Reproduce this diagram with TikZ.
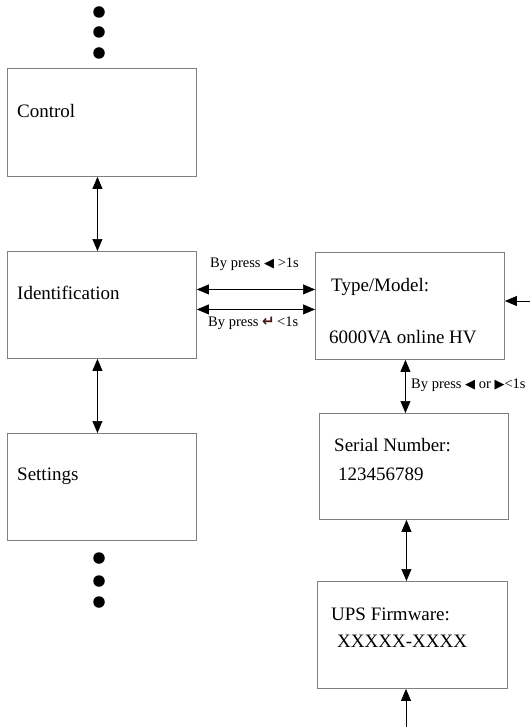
\documentclass[tikz,border=0pt]{standalone}
\usepackage{fontspec}
\setmainfont{Liberation Serif}
\newfontfamily\symfont{DejaVu Sans}
\usetikzlibrary{arrows.meta}
\definecolor{boxgray}{RGB}{128,128,128}
\definecolor{enterred}{RGB}{70,20,15}
\tikzset{
  box/.style={draw=boxgray, line width=0.9pt, anchor=north west, inner sep=0pt},
  lbl/.style={anchor=west, inner sep=0pt, font=\fontsize{19}{22}\selectfont},
  small/.style={anchor=west, inner sep=0pt, font=\fontsize{14.5}{16}\selectfont},
  conn/.style={line width=0.7pt, {Triangle[length=12pt,width=10pt]}-{Triangle[length=12pt,width=10pt]}},
  conn1/.style={line width=0.7pt, -{Triangle[length=12pt,width=10pt]}},
  dot/.style={fill=black, circle, inner sep=0pt, minimum size=11.5pt}
}
\newcommand{\lefttri}{{\symfont\fontsize{13}{15}\selectfont ◀}}
\newcommand{\righttri}{{\symfont\fontsize{13}{15}\selectfont ▶}}
\begin{document}
\begin{tikzpicture}[x=1pt,y=-1pt]
\useasboundingbox (0,0) rectangle (530,727);
% left column
\node[box, minimum width=189pt, minimum height=108pt] (ctrl) at (7,68) {};
\node[box, minimum width=189pt, minimum height=107pt] (ident) at (7,251) {};
\node[box, minimum width=189pt, minimum height=107pt] (sett) at (7,433) {};
\node[lbl] (tctrl) at (17,111) {Control};
\node[lbl] (tident) at (17,293) {Identification};
\node[lbl] (tsett) at (17,476) {Settings};
% dots
\node[dot] (d1) at (99,12) {};
\node[dot] (d2) at (99,32) {};
\node[dot] (d3) at (99,53) {};
\node[dot] (d4) at (99,558) {};
\node[dot] (d5) at (99,581) {};
\node[dot] (d6) at (99,602) {};
% right column
\node[box, minimum width=189pt, minimum height=107pt] (tm) at (315,252) {};
\node[box, minimum width=189pt, minimum height=106pt] (sn) at (319,413) {};
\node[box, minimum width=190pt, minimum height=107pt] (fw) at (317,581) {};
\node[lbl] (ttm1) at (331,287) {Type/Model:};
\node[lbl] (ttm2) at (329,337) {6000VA online HV};
\node[lbl] (tsn1) at (334,445) {Serial Number:};
\node[lbl] (tsn2) at (338,474) {123456789};
\node[lbl] (tfw1) at (331,614) {UPS Firmware:};
\node[lbl] (tfw2) at (337,641) {XXXXX-XXXX};
% connectors left
\draw[conn] ([xshift=-4.5pt]ctrl.south) -- ([xshift=-4.5pt]ctrl.south |- ident.north);
\draw[conn] ([xshift=-4.5pt]ident.south) -- ([xshift=-4.5pt]ident.south |- sett.north);
% horizontal
\draw[conn] ([yshift=15.5pt]ident.east) -- ([yshift=15.5pt]ident.east -| tm.west);
\draw[conn] ([yshift=-4.5pt]ident.east) -- ([yshift=-4.5pt]ident.east -| tm.west);
\node[small] (l1) at (210,264) {By press \lefttri\ >1s};
\node[small] (l2) at (208,323) {By press {\symfont\fontsize{15}{15}\selectfont\color{enterred}\bfseries ↵}\,<1s};
% right column connectors
\draw[conn] ([xshift=-4.5pt]tm.south) -- ([xshift=-4.5pt]tm.south |- sn.north);
\draw[conn] ([xshift=-7.5pt]sn.south) -- ([xshift=-7.5pt]sn.south |- fw.north);
\node[small] (l3) at (411,385) {By press \lefttri\ or \righttri<1s};
\coordinate (rin) at (530,301);
\draw[conn1] (rin) -- (rin -| tm.east);
\coordinate (bin) at (406,727);
\draw[conn1] (bin) -- (bin |- fw.south);
\end{tikzpicture}
\end{document}
